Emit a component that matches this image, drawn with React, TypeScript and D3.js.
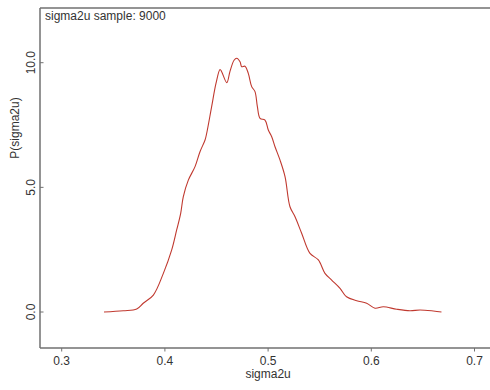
import React from "react";
import * as d3 from "d3";

const sigmaValues = [0.341, 0.3597, 0.3727, 0.379, 0.3888, 0.3985, 0.4066, 0.4114, 0.4153, 0.4178, 0.4227, 0.4292, 0.434, 0.4389, 0.4405, 0.4453, 0.4495, 0.4534, 0.455, 0.46, 0.463, 0.467, 0.4696, 0.4728, 0.4744, 0.4776, 0.4808, 0.4841, 0.4873, 0.4896, 0.4922, 0.497, 0.5002, 0.5035, 0.5067, 0.5115, 0.5164, 0.5212, 0.5261, 0.5325, 0.5406, 0.5487, 0.5551, 0.5616, 0.5697, 0.576, 0.5859, 0.5955, 0.6036, 0.6116, 0.6246, 0.6375, 0.6472, 0.6601, 0.668];
const densityValues = [0.0, 0.05, 0.12, 0.35, 0.68, 1.55, 2.49, 3.29, 3.96, 4.62, 5.29, 5.83, 6.43, 6.9, 7.17, 8.24, 9.17, 9.73, 9.64, 9.2, 9.64, 10.1, 10.18, 10.04, 9.84, 9.86, 9.57, 9.04, 8.84, 8.24, 7.77, 7.7, 7.3, 7.03, 6.63, 6.1, 5.43, 4.22, 3.82, 3.16, 2.35, 2.09, 1.55, 1.28, 0.95, 0.61, 0.45, 0.35, 0.15, 0.21, 0.11, 0.05, 0.08, 0.04, 0.0];
const xTicks = [0.3, 0.4, 0.5, 0.6, 0.7];
const yTicks = [0, 5, 10];
const titleText = "sigma2u sample: 9000";
const xLabel = "sigma2u";
const yLabel = "P(sigma2u)";

export default function App() {
  const W = 490, H = 390;
  const left = 40, top = 8, bottom = 348;
  const x = d3.scaleLinear().domain([0.3, 0.7]).range([61.7, 474.5]);
  const y = d3.scaleLinear().domain([0, 10]).range([312, 62.7]);
  const pts: [number, number][] = sigmaValues.map((v, i) => [v, densityValues[i]]);
  const line = d3.line<[number, number]>().x(d => x(d[0])).y(d => y(d[1])).curve(d3.curveCatmullRom.alpha(0.5));
  const axisColor = "#707070";
  const textColor = "#333";
  const font = "Liberation Sans, Arial, sans-serif";
  const fs = 12;
  return (
    <svg width={W} height={H} style={{ position: "absolute", left: 0, top: 0, background: "#fff" }}>
      <rect x={0} y={0} width={W} height={H} fill="#fff" />
      <line x1={left} x2={W} y1={top} y2={top} stroke={axisColor} strokeWidth={1.5} />
      <line x1={left} x2={left} y1={top} y2={bottom} stroke={axisColor} strokeWidth={1.5} />
      <line x1={left} x2={W} y1={bottom} y2={bottom} stroke={axisColor} strokeWidth={1.5} />
      {xTicks.map(t => (
        <g key={t}>
          <line x1={x(t)} x2={x(t)} y1={bottom} y2={bottom + 3.5} stroke={axisColor} strokeWidth={1} />
          <text x={x(t)} y={365} textAnchor="middle" fontFamily={font} fontSize={fs} fill={textColor}>{t.toFixed(1)}</text>
        </g>
      ))}
      {yTicks.map(t => (
        <g key={t}>
          <line x1={left} x2={left + 3.5} y1={y(t)} y2={y(t)} stroke={axisColor} strokeWidth={1} />
          <text transform={`translate(35,${y(t)}) rotate(-90)`} textAnchor="middle" fontFamily={font} fontSize={fs} fill={textColor}>{t.toFixed(1)}</text>
        </g>
      ))}
      <text x={x(0.5)} y={378} textAnchor="middle" fontFamily={font} fontSize={fs} fill={textColor}>{xLabel}</text>
      <text transform={`translate(19,128) rotate(-90)`} textAnchor="middle" fontFamily={font} fontSize={fs} fill={textColor}>{yLabel}</text>
      <text x={45} y={20} fontFamily={font} fontSize={fs} fill={textColor}>{titleText}</text>
      <path d={line(pts) || ""} fill="none" stroke="#c0392f" strokeWidth={1.1} />
    </svg>
  );
}
